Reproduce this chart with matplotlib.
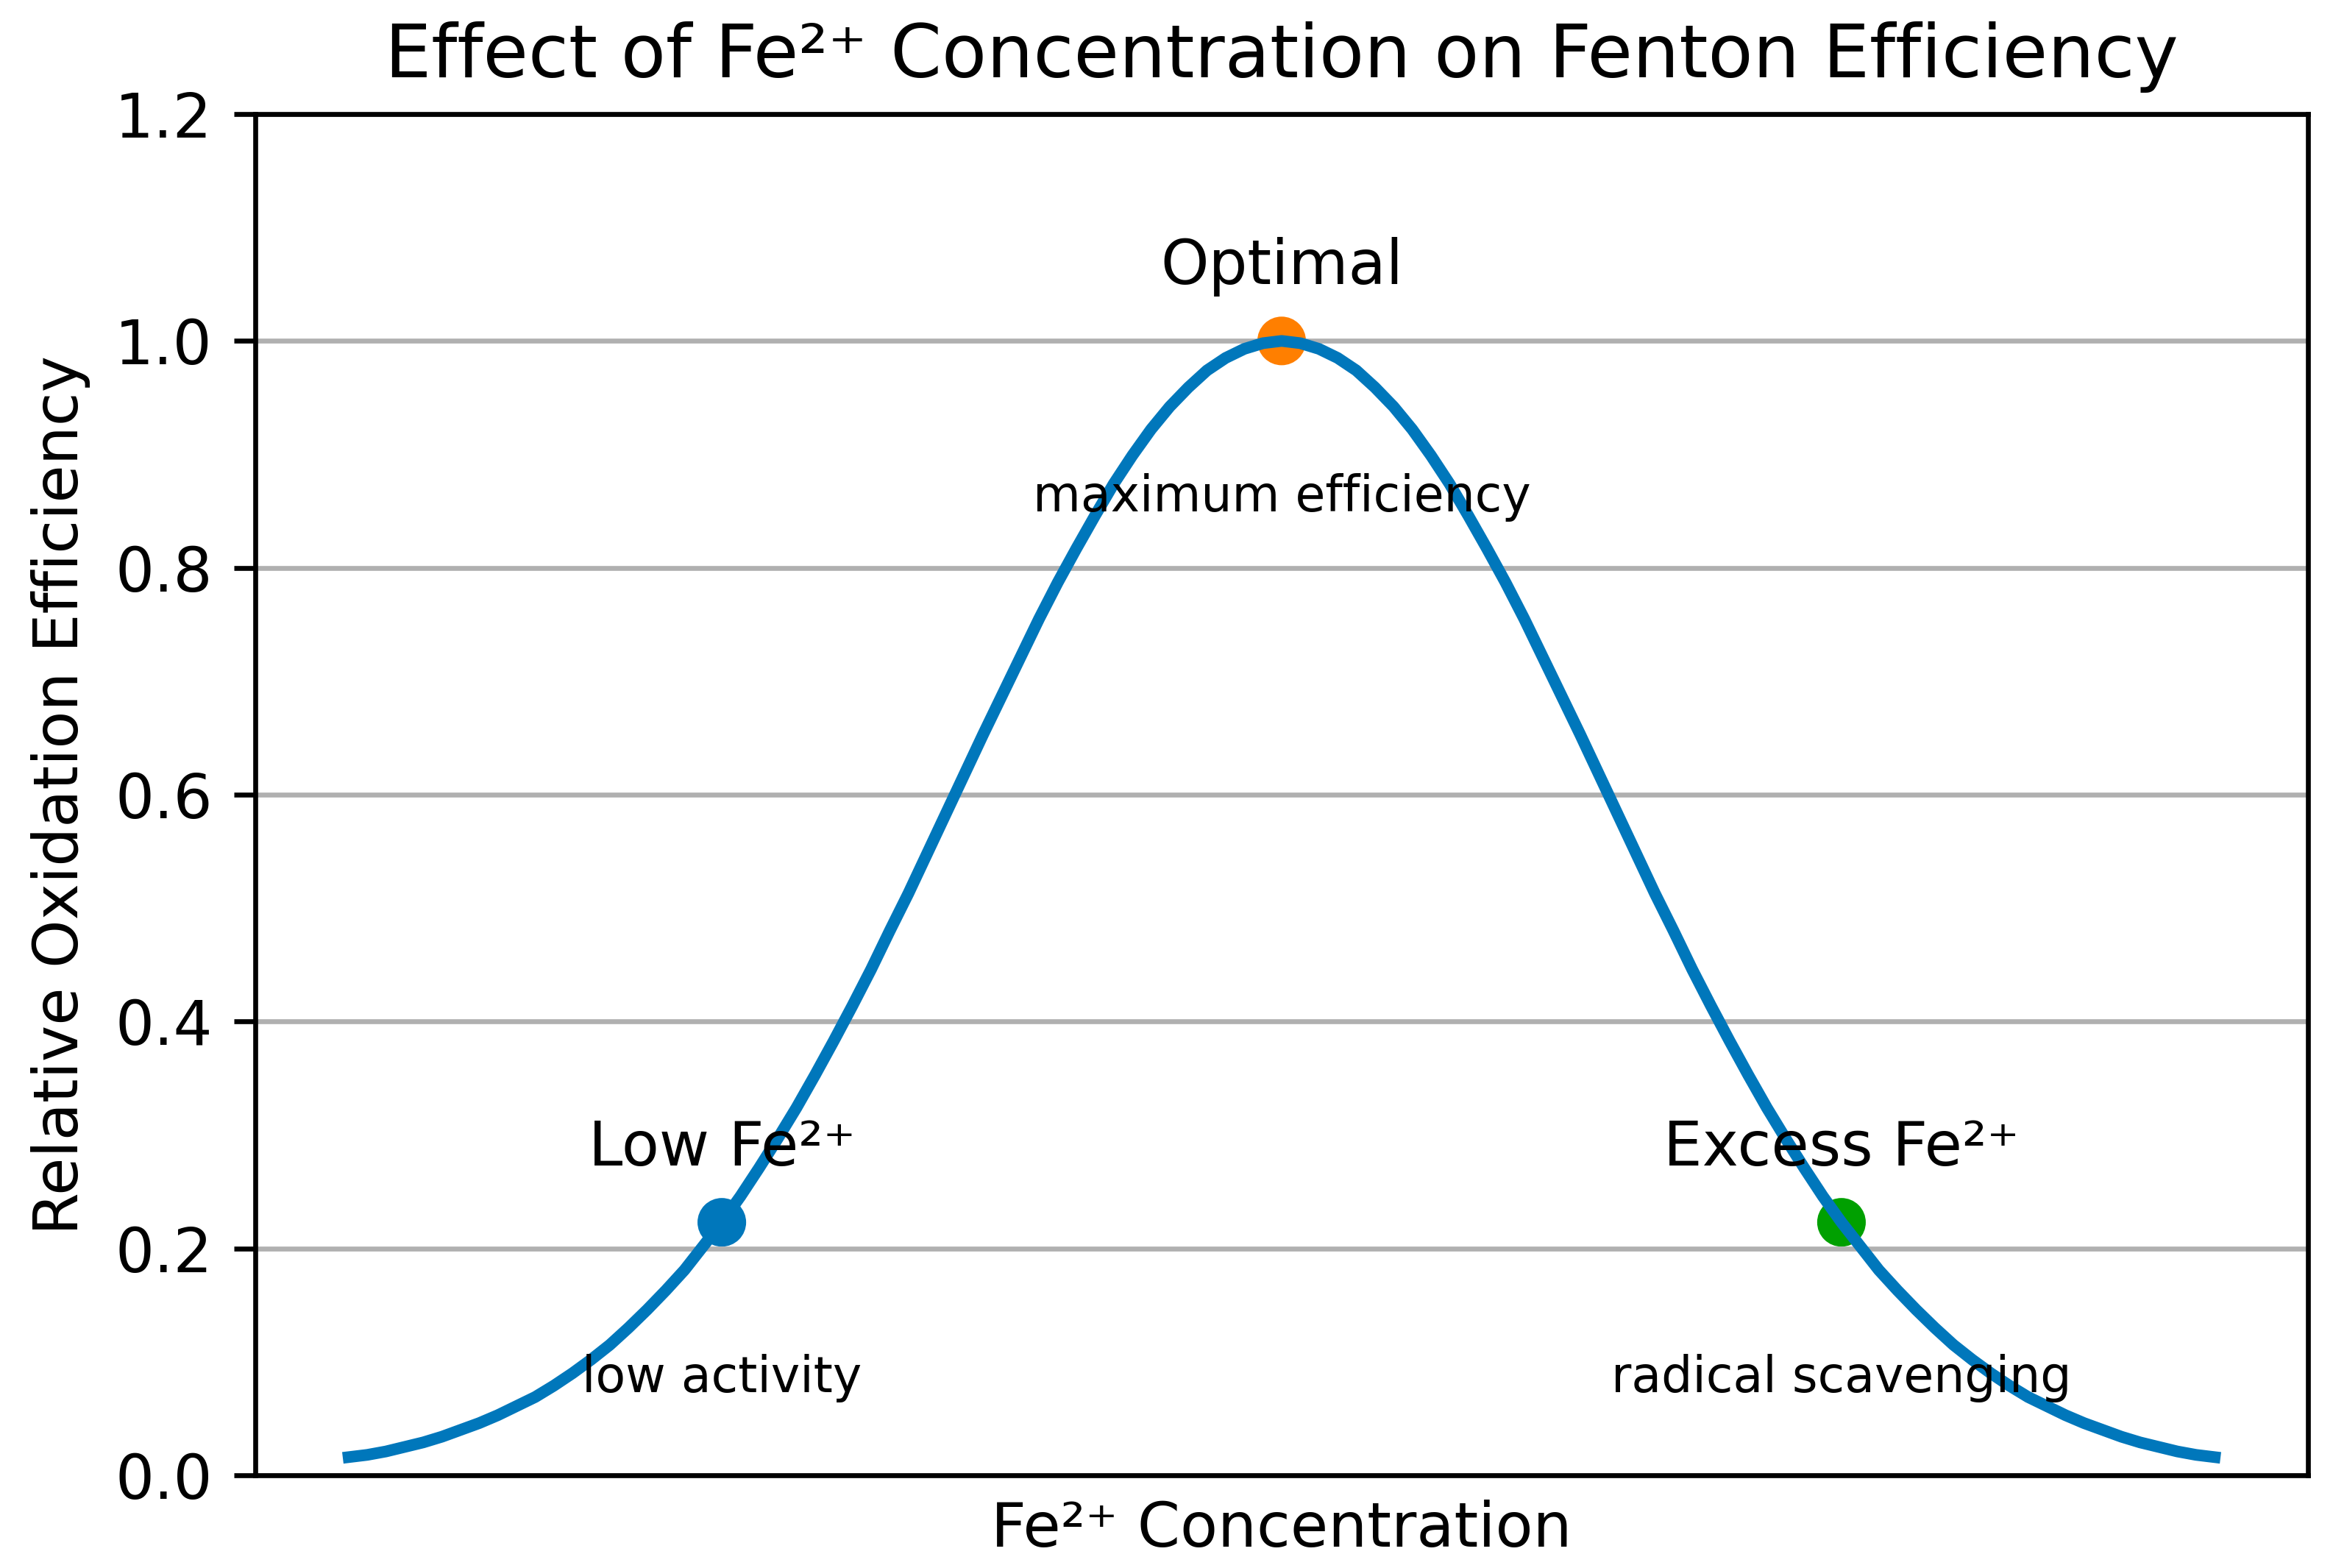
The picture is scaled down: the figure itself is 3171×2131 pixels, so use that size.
import matplotlib
matplotlib.use('Agg')
import matplotlib.pyplot as plt

DPI = 600
W, H = 3171, 2131

# curve (x step 0.1)
conc = [0.0, 0.1, 0.2, 0.3, 0.4, 0.5, 0.6, 0.7, 0.8, 0.9,
        1.0, 1.1, 1.2, 1.3, 1.4, 1.5, 1.6, 1.7, 1.8, 1.9,
        2.0, 2.1, 2.2, 2.3, 2.4, 2.5, 2.6, 2.7, 2.8, 2.9,
        3.0, 3.1, 3.2, 3.3, 3.4, 3.5, 3.6, 3.7, 3.8, 3.9,
        4.0, 4.1, 4.2, 4.3, 4.4, 4.5, 4.6, 4.7, 4.8, 4.9,
        5.0, 5.1, 5.2, 5.3, 5.4, 5.5, 5.6, 5.7, 5.8, 5.9,
        6.0, 6.1, 6.2, 6.3, 6.4, 6.5, 6.6, 6.7, 6.8, 6.9,
        7.0, 7.1, 7.2, 7.3, 7.4, 7.5, 7.6, 7.7, 7.8, 7.9,
        8.0, 8.1, 8.2, 8.3, 8.4, 8.5, 8.6, 8.7, 8.8, 8.9,
        9.0, 9.1, 9.2, 9.3, 9.4, 9.5, 9.6, 9.7, 9.8, 9.9, 10.0]
efficiency = [0.016, 0.018, 0.021, 0.025, 0.029, 0.034, 0.040, 0.046, 0.053, 0.061,
              0.069, 0.079, 0.090, 0.102, 0.115, 0.130, 0.146, 0.163, 0.181, 0.202,
              0.223, 0.246, 0.271, 0.297, 0.324, 0.353, 0.383, 0.414, 0.446, 0.480,
              0.513, 0.548, 0.583, 0.618, 0.653, 0.687, 0.721, 0.755, 0.787, 0.817,
              0.846, 0.874, 0.899, 0.922, 0.942, 0.959, 0.974, 0.985, 0.993, 0.998,
              1.000, 0.998, 0.993, 0.985, 0.974, 0.959, 0.942, 0.922, 0.899, 0.874,
              0.846, 0.817, 0.787, 0.755, 0.721, 0.687, 0.653, 0.618, 0.583, 0.548,
              0.513, 0.480, 0.446, 0.414, 0.383, 0.353, 0.324, 0.297, 0.271, 0.246,
              0.223, 0.202, 0.181, 0.163, 0.146, 0.130, 0.115, 0.102, 0.090, 0.079,
              0.069, 0.061, 0.053, 0.046, 0.040, 0.034, 0.029, 0.025, 0.021, 0.018, 0.016]

# highlighted points
point_conc = [2, 5, 8]
point_eff = [0.223, 1.0, 0.223]
point_labels = ['Low Fe²⁺', 'Optimal', 'Excess Fe²⁺']
point_notes = ['low activity', 'maximum efficiency', 'radical scavenging']
point_colors = ['#0077BB', '#FF7F00', '#00A000']

yticks = [0.0, 0.2, 0.4, 0.6, 0.8, 1.0, 1.2]

fig = plt.figure(figsize=(W / DPI, H / DPI), dpi=DPI)
ax = fig.add_axes([347 / W, 126 / H, 2790 / W, 1850 / H])

ax.plot(conc, efficiency, color='#0077BB', lw=1.9)
ax.scatter(point_conc, point_eff, c=point_colors, s=48)

for x, y, lab, note in zip(point_conc, point_eff, point_labels, point_notes):
    ax.text(x, y + 0.05, lab, ha='center', fontsize=10)
    ax.text(x, y - 0.15, note, ha='center', fontsize=8)

ax.set_ylim(0, 1.2)
ax.set_yticks(yticks)
ax.set_xticks([])
ax.grid(axis='y')
ax.set_xlabel('Fe²⁺ Concentration')
ax.set_ylabel('Relative Oxidation Efficiency')
ax.set_title('Effect of Fe²⁺ Concentration on Fenton Efficiency', fontsize=12)

fig.savefig('out.png', dpi=DPI)
